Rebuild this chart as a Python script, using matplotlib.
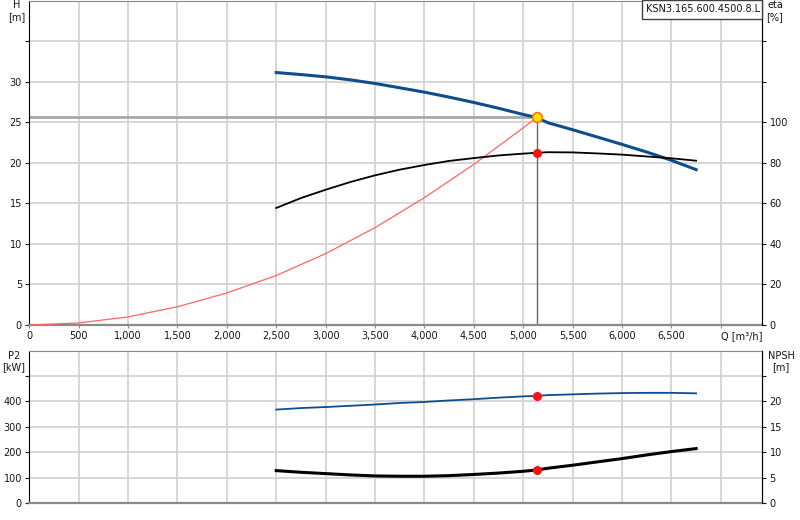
import matplotlib
matplotlib.use('Agg')
import matplotlib.pyplot as plt
from matplotlib.patches import Rectangle

# values
q_pump = [2500, 2750, 3000, 3250, 3500, 3750, 4000, 4250, 4500, 4750,
          5000, 5135, 5250, 5500, 5750, 6000, 6250, 6500, 6750]
head = [31.12, 30.87, 30.59, 30.22, 29.77, 29.24, 28.70, 28.09, 27.43, 26.72,
        25.95, 25.58, 24.93, 24.07, 23.17, 22.26, 21.32, 20.30, 19.15]
eta = [57.7, 62.6, 66.7, 70.5, 73.8, 76.6, 78.9, 80.9, 82.3, 83.6,
       84.5, 84.9, 85.2, 85.1, 84.6, 84.0, 83.1, 82.2, 81.0]
p2 = [368, 374, 378, 383, 388, 394, 398, 404, 409, 415,
      420, 422, 425, 428, 431, 433, 434, 434, 432]
npsh = [6.38, 6.05, 5.79, 5.53, 5.33, 5.27, 5.27, 5.39, 5.62, 5.9,
        6.25, 6.5, 6.85, 7.44, 8.1, 8.75, 9.47, 10.13, 10.72]

q_system = [0, 500, 1000, 1500, 2000, 2500, 3000, 3500, 4000, 4500, 5000, 5135]
h_system = [0, 0.25, 1.0, 2.25, 3.95, 6.1, 8.8, 12.0, 15.7, 19.8, 24.3, 25.58]

duty_q = 5135
duty_h = 25.58
duty_eta = 84.9
duty_p2 = 422
duty_npsh = 6.5

x_ticks = list(range(0, 7001, 500))
x_labels = ['0', '500', '1,000', '1,500', '2,000', '2,500', '3,000', '3,500',
            '4,000', '4,500', '5,000', '5,500', '6,000', '6,500', 'Q [m³/h]']
h_ticks = [0, 5, 10, 15, 20, 25, 30, 35]
h_labels = ['0', '5', '10', '15', '20', '25', '30', '']
eta_ticks = [0, 20, 40, 60, 80, 100, 120, 140]
eta_labels = ['0', '20', '40', '60', '80', '100', '', '']
p2_ticks = [0, 100, 200, 300, 400, 500]
p2_labels = ['0', '100', '200', '300', '400', '']
npsh_ticks = [0, 5, 10, 15, 20, 25]
npsh_labels = ['0', '5', '10', '15', '20', '']

plt.rcParams['font.family'] = ['DejaVu Sans']
FS = 7.0
TXT = '#151515'
GRID = '#d6d6d6'
BLUE = '#0e4d8c'
W, H = 800, 520


def fx(px):
    return px / W


def fy(py):
    return 1 - py / H


def style(a, right):
    a.set_xlim(0, 7420)
    a.set_xticks(x_ticks)
    a.grid(True, color=GRID, lw=1.4, zorder=0)
    a.set_axisbelow(True)
    a.spines['left'].set_color('black')
    a.spines['right'].set_color('black')
    a.spines['top'].set_color('#8a8a8a')
    a.spines['bottom'].set_color('#8a8a8a')
    a.spines['bottom'].set_linewidth(1.6)
    a.tick_params(axis='y', length=3, width=0.8, pad=2.3, labelsize=FS, colors=TXT)
    a.tick_params(axis='x', length=2, width=0.8, color='#8a8a8a', pad=2.3,
                  labelsize=FS, labelcolor=TXT)
    right.tick_params(axis='y', length=3, width=0.8, pad=2.3, labelsize=FS, colors=TXT)
    for s in right.spines.values():
        s.set_visible(False)
    right.spines['right'].set_visible(True)
    right.spines['right'].set_color('black')


fig = plt.figure(figsize=(8, 5.2), dpi=100)

# upper chart: head / efficiency
ax = fig.add_axes([fx(29.3), fy(325), fx(733), 324.5 / H])
ax2 = ax.twinx()
style(ax, ax2)
ax.set_ylim(0, 40)
ax.set_yticks(h_ticks)
ax.set_yticklabels(h_labels)
ax.set_xticklabels(x_labels)
ax.get_xticklabels()[-1].set_horizontalalignment('left')
ax2.set_ylim(0, 160)
ax2.set_yticks(eta_ticks)
ax2.set_yticklabels(eta_labels)

ax.plot([0, duty_q], [duty_h, duty_h], color='#a8a8a8', lw=2, zorder=2)
ax.plot([duty_q, duty_q], [0, duty_h], color='#6a6a6a', lw=1, zorder=2)
ax.plot(q_system, h_system, color='#ff6464', lw=0.9, zorder=3)
ax.plot(q_pump, head, color=BLUE, lw=2.2, zorder=4)
ax.plot([duty_q], [duty_h], 'o', ms=7, mfc='#ffe000', mec='#f08000', mew=1.2, zorder=5)
ax2.plot(q_pump, eta, color='black', lw=1.3, zorder=4)
ax2.plot([duty_q], [duty_eta], 'o', ms=5.5, color='#ff1010', zorder=5)

# lower chart: power / NPSH
axb = fig.add_axes([fx(29.3), fy(503), fx(733), 152.3 / H])
axb2 = axb.twinx()
style(axb, axb2)
axb.set_ylim(0, 600)
axb.set_yticks(p2_ticks)
axb.set_yticklabels(p2_labels)
axb.set_xticklabels([])
axb.tick_params(axis='x', length=0)
axb2.set_ylim(0, 30)
axb2.set_yticks(npsh_ticks)
axb2.set_yticklabels(npsh_labels)

axb.plot(q_pump, p2, color=BLUE, lw=1.3, zorder=4)
axb.plot([duty_q], [duty_p2], 'o', ms=5.5, color='#ff1010', zorder=5)
axb2.plot(q_pump, npsh, color='black', lw=2.2, zorder=4)
axb2.plot([duty_q], [duty_npsh], 'o', ms=5.5, color='#ff1010', zorder=5)

# axis captions
fig.text(fx(17), fy(5), 'H', ha='center', va='center', fontsize=FS, color=TXT)
fig.text(fx(17), fy(17), '[m]', ha='center', va='center', fontsize=FS, color=TXT)
fig.text(fx(775), fy(5), 'eta', ha='center', va='center', fontsize=FS, color=TXT)
fig.text(fx(775), fy(17), '[%]', ha='center', va='center', fontsize=FS, color=TXT)
fig.text(fx(14), fy(356), 'P2', ha='center', va='center', fontsize=FS, color=TXT)
fig.text(fx(14), fy(367), '[kW]', ha='center', va='center', fontsize=FS, color=TXT)
fig.text(fx(781), fy(356), 'NPSH', ha='center', va='center', fontsize=FS, color=TXT)
fig.text(fx(781), fy(367), '[m]', ha='center', va='center', fontsize=FS, color=TXT)

# product label box
fig.patches.append(Rectangle((fx(642.3), fy(19)), fx(762 - 642.3), 19 / H,
                             transform=fig.transFigure, facecolor='white',
                             edgecolor='#404040', lw=1, zorder=10))
fig.text(fx(646), fy(9.5), 'KSN3.165.600.4500.8.L', ha='left', va='center',
         fontsize=FS, color=TXT, zorder=11)

plt.savefig('out.png', dpi=100)
